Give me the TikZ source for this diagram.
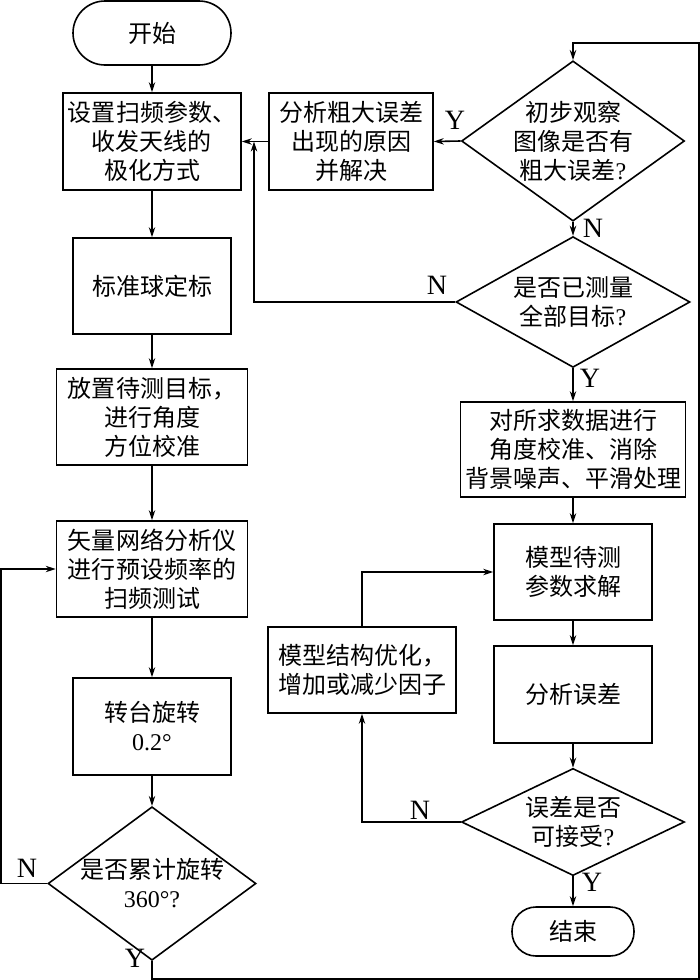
\documentclass[tikz,border=0pt]{standalone}
\usepackage{fontspec}
\setmainfont{Liberation Serif}
\newfontfamily\cjk{Noto Sans CJK SC}
\usetikzlibrary{arrows.meta, shapes.geometric, calc}
\newcommand{\askq}{{\rmfamily ?}}

\begin{document}
\begin{tikzpicture}[x=0.5pt, y=-0.5pt,
        >={Stealth[length=5pt, width=3.2pt]},
        line width=0.8pt,
        every node/.style={font=\cjk\fontsize{12}{14.5}\selectfont},
        block/.style={draw, rectangle, align=center, inner sep=1pt},
        term/.style={draw, rectangle, align=center, inner sep=1pt},
        decision/.style={draw, diamond, align=center, inner sep=-5pt},
        yn/.style={font=\rmfamily\fontsize{14}{16}\selectfont}]

        \useasboundingbox (0,0) rectangle (700,980);

        % Left column: measurement
        \node[term, rounded corners=16pt, minimum width=79pt, minimum height=32pt] (start) at (152,33) {开始};
        \node[block, minimum width=89pt, minimum height=48.5pt] (set) at (152,141.5) {设置扫频参数、\\收发天线的\\极化方式};
        \node[block, minimum width=79pt, minimum height=48pt] (calib) at (152,286) {标准球定标};
        \node[block, minimum width=95.5pt, minimum height=48pt] (place) at (152,417) {放置待测目标，\\进行角度\\方位校准};
        \node[block, minimum width=95.5pt, minimum height=48pt] (sweep) at (152,569) {矢量网络分析仪\\进行预设频率的\\扫频测试};
        \node[block, minimum width=79pt, minimum height=48.5pt] (rotate) at (152,726.5) {转台旋转\\{\rmfamily 0.2°}};
        \node[decision, minimum width=104pt, minimum height=58pt] (full) at (152,883.5) {是否累计旋转\\{\rmfamily 360°?}};

        % Right column: data processing
        \node[block, minimum width=82pt, minimum height=48.5pt] (cause) at (351,141.5) {分析粗大误差\\出现的原因\\并解决};
        \node[decision, minimum width=111.5pt, minimum height=77pt] (gross) at (573,141) {初步观察\\图像是否有\\粗大误差\askq};
        \node[decision, minimum width=117pt, minimum height=55pt] (all) at (573,302) {是否已测量\\全部目标\askq};
        \node[block, minimum width=112.5pt, minimum height=47.5pt] (proc) at (573,449.5) {对所求数据进行\\角度校准、消除\\背景噪声、平滑处理};
        \node[block, minimum width=79pt, minimum height=48pt] (solve) at (573,572) {模型待测\\参数求解};
        \node[block, minimum width=94pt, minimum height=43pt] (opt) at (362,670) {模型结构优化，\\增加或减少因子};
        \node[block, minimum width=79pt, minimum height=48.5pt] (err) at (573,694.5) {分析误差};
        \node[decision, minimum width=111.5pt, minimum height=47.5pt] (accept) at (573,822) {误差是否\\可接受\askq};
        \node[term, rounded corners=12pt, minimum width=61pt, minimum height=24.5pt] (stop) at (573,931.5) {结束};

        % Helper points
        \coordinate (rb) at (699,979);
        \coordinate (rt) at (699,43);
        \coordinate (join) at (254,141.5);

        % Main flow
        \draw[->] (start) -- (set);
        \draw[->] (set) -- (calib);
        \draw[->] (calib) -- (place);
        \draw[->] (place) -- (sweep);
        \draw[->] (sweep) -- (rotate);
        \draw[->] (rotate) -- (full);
        \draw[->] (full.west) -- ++(-46,0) |- (sweep.west);
        \draw[->] (full.south) |- (rb) -- (rt) -| (gross.north);
        \draw[->] (gross.west) -- (cause.east);
        \draw[->] (cause.west) -- (set.east);
        \draw[->] (gross.south) -- (all.north);
        \draw[->] (all.west) -| (join);
        \draw[->] (all.south) -- (proc.north);
        \draw[->] (proc) -- (solve);
        \draw[->] (solve) -- (err);
        \draw[->] (err) -- (accept);
        \draw[->] (accept.south) -- (stop.north);
        \draw[->] (accept.west) -| (opt.south);
        \draw[->] (opt.north) |- (solve.west);

        % Y / N labels
        \node[yn] (y1) at (455,120) {Y};
        \node[yn] (n1) at (593,228) {N};
        \node[yn] (n2) at (437,285) {N};
        \node[yn] (y2) at (590,378) {Y};
        \node[yn] (n3) at (420,810) {N};
        \node[yn] (y3) at (592,882) {Y};
        \node[yn] (n4) at (27,868) {N};
        \node[yn] (y4) at (135,958) {Y};

\end{tikzpicture}
\end{document}
